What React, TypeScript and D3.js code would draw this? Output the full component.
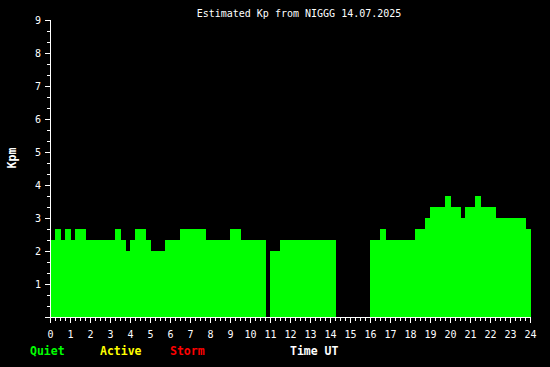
import React from "react";
import * as d3 from "d3";

// Segment start/end times (hours UT) and estimated Kp values (null = no data)
const segStart = [0, 0.25, 0.55, 0.75, 1.05, 1.25, 1.8, 3.25, 3.55, 3.8, 4.0, 4.25, 4.8, 5.05, 5.75, 6.5, 7.8, 9.0, 9.55, 10.8, 11.0, 11.5, 14.3, 16.0, 16.5, 16.8, 18.25, 18.75, 19.0, 19.75, 20.05, 20.55, 20.75, 21.25, 21.55, 22.3, 23.8];
const segEnd = [0.25, 0.55, 0.75, 1.05, 1.25, 1.8, 3.25, 3.55, 3.8, 4.0, 4.25, 4.8, 5.05, 5.75, 6.5, 7.8, 9.0, 9.55, 10.8, 11.0, 11.5, 14.3, 16.0, 16.5, 16.8, 18.25, 18.75, 19.0, 19.75, 20.05, 20.55, 20.75, 21.25, 21.55, 22.3, 23.8, 24.05];
const kpValues: (number | null)[] = [2.33, 2.67, 2.33, 2.67, 2.33, 2.67, 2.33, 2.67, 2.33, 2.0, 2.33, 2.67, 2.33, 2.0, 2.33, 2.67, 2.33, 2.67, 2.33, null, 2.0, 2.33, null, 2.33, 2.67, 2.33, 2.67, 3.0, 3.33, 3.67, 3.33, 3.0, 3.33, 3.67, 3.33, 3.0, 2.67];

const xTickLabels = d3.range(0, 25).map(String);
const yTickLabels = ["1", "2", "3", "4", "5", "6", "7", "8", "9"];
const legendLabels = ["Quiet", "Active", "Storm"];
const legendColors = ["#00ff00", "#ffff00", "#ff0000"];
const title = "Estimated Kp from NIGGG 14.07.2025";

const W = 550;
const H = 367;

export default function App() {
  const x = d3.scaleLinear().domain([0, 24]).range([50, 530]);
  const y = d3.scaleLinear().domain([0, 9]).range([317, 20]);

  const xMinor = d3.range(0, 97).map((i) => i / 4);
  const yMinor = d3.range(0, 28).map((i) => i / 3);
  const mono = "'DejaVu Sans Mono', monospace";
  const legendX = [30, 100, 170];

  return (
    <svg
      width={W}
      height={H}
      style={{ position: "absolute", left: 0, top: 0, background: "#000" }}
    >
      <rect x={0} y={0} width={W} height={H} fill="#000" />
      {/* bars */}
      <g shapeRendering="crispEdges">
        {kpValues.map((v, i) =>
          v == null ? null : (
            <rect
              key={i}
              x={x(segStart[i])}
              width={x(segEnd[i]) - x(segStart[i])}
              y={y(v)}
              height={y(0) - y(v)}
              fill="#00ff00"
            />
          )
        )}
      </g>
      {/* axes */}
      <g stroke="#fff" strokeWidth={1} shapeRendering="crispEdges">
        <line x1={50.5} x2={50.5} y1={20} y2={317.5} />
        <line x1={50} x2={531} y1={317.5} y2={317.5} />
        {yMinor.map((v, i) => {
          const major = i % 3 === 0;
          const yy = Math.round(y(v)) + 0.5;
          return <line key={"yt" + i} x1={major ? 45 : 47} x2={51} y1={yy} y2={yy} />;
        })}
        {xMinor.map((h, i) => {
          const major = i % 4 === 0;
          const xx = Math.round(x(h)) + 0.5;
          return <line key={"xt" + i} x1={xx} x2={xx} y1={318} y2={major ? 323 : 321} />;
        })}
      </g>
      {/* tick labels */}
      <g fill="#fff" fontFamily={mono} fontSize={10}>
        {xTickLabels.map((t, i) => (
          <text key={"xl" + i} x={x(i) + 0.5} y={338} textAnchor="middle">
            {t}
          </text>
        ))}
        {yTickLabels.map((t, i) => (
          <text key={"yl" + i} x={41} y={y(i + 1) + 4} textAnchor="end">
            {t}
          </text>
        ))}
        <text x={299} y={16.5} textAnchor="middle">
          {title}
        </text>
      </g>
      {/* axis titles and legend */}
      <g fontFamily={mono} fontSize={11.5} fontWeight="bold">
        <text
          transform="translate(15.5,158) rotate(-90)"
          textAnchor="middle"
          fill="#fff"
        >
          Kpm
        </text>
        {legendLabels.map((l, i) => (
          <text key={l} x={legendX[i]} y={354.5} fill={legendColors[i]}>
            {l}
          </text>
        ))}
        <text x={290} y={354.5} fill="#fff">
          Time UT
        </text>
      </g>
    </svg>
  );
}
